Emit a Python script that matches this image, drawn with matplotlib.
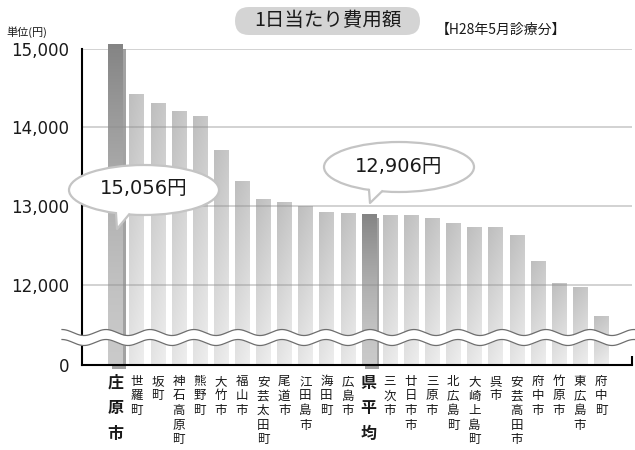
import numpy as np
import matplotlib
matplotlib.use("Agg")
import matplotlib.pyplot as plt
import matplotlib.patheffects as pe
from matplotlib.patches import Ellipse, Polygon, FancyBboxPatch
from matplotlib.ticker import FuncFormatter

plt.rcParams['font.family'] = ['DejaVu Sans', 'Noto Sans CJK JP']

# 1日当たり費用額（H28年5月診療分）
municipalities = ['庄原市', '世羅町', '坂町', '神石高原町', '熊野町', '大竹市', '福山市',
                  '安芸太田町', '尾道市', '江田島市', '海田町', '広島市', '県平均', '三次市',
                  '廿日市市', '三原市', '北広島町', '大崎上島町', '呉市', '安芸高田市',
                  '府中市', '竹原市', '東広島市', '府中町']
costs = [15056, 14425, 14310, 14212, 14148, 13710, 13316, 13088, 13059, 13009, 12932,
         12916, 12906, 12894, 12886, 12848, 12789, 12742, 12733, 12632, 12310, 12030,
         11976, 11611]
highlight = ['庄原市', '県平均']
y_ticks = [0, 12000, 13000, 14000, 15000]

W, H = 635, 450
fig = plt.figure(figsize=(W / 100, H / 100), dpi=100)
AX_L, AX_R, AX_T, AX_B = 81.7, 632.3, 48.5, 364.5
ax = fig.add_axes([AX_L / W, 1 - AX_B / H, (AX_R - AX_L) / W, (AX_B - AX_T) / H])

# 軸の省略（0〜11,000をほぼ潰す）
BREAK = 11000
def fwd(v):
    v = np.asarray(v, float)
    return np.where(v >= BREAK, v, BREAK - (BREAK - v) * 0.0005)

def inv(u):
    u = np.asarray(u, float)
    return np.where(u >= BREAK, u, BREAK - (BREAK - u) / 0.0005)

ax.set_yscale('function', functions=(fwd, inv))
ax.set_xlim(-1.59, 24.48)
ax.set_ylim(0, 15000)

x = np.arange(len(municipalities))
bars = ax.bar(x, costs, width=0.663, color='#d0d0d0', lw=0, zorder=2, clip_on=False)

to_axes = ax.transData + ax.transAxes.inverted()
t = np.linspace(1, 0, 80)[:, None]
xf = np.linspace(0, 1, 16)[None, :]
for b, name in zip(bars, municipalities):
    (x0, y0), (x1, y1) = to_axes.transform([[b.get_x(), 0],
                                            [b.get_x() + b.get_width(), b.get_height()]])
    if name in highlight:
        g = 0.79 - 0.27 * t ** 1.5 + 0.0 * xf
        b.set_path_effects([pe.SimplePatchShadow(offset=(2.5, -3.2), shadow_rgbFace='#a2a2a2',
                                                 alpha=1.0), pe.Normal()])
    else:
        g = 0.915 - 0.15 * t + 0.04 * (xf - 0.5)
    g = np.clip(g, 0, 1)
    rgb = np.dstack([g, g, g])
    im = ax.imshow(rgb, extent=(x0, x1, y0, y1), transform=ax.transAxes, aspect='auto',
                   origin='upper', interpolation='bilinear', zorder=2.1)
    im.set_clip_on(False)

ax.set_xlim(-1.59, 24.48)
ax.set_ylim(0, 15000)

for v in y_ticks[1:]:
    ax.axhline(v, color='#8c8c8c', alpha=0.45, lw=1.2, zorder=2.5)

for s in ['top', 'right']:
    ax.spines[s].set_visible(False)
for s in ['left', 'bottom']:
    ax.spines[s].set_linewidth(1.5)
    ax.spines[s].set_color('black')
    ax.spines[s].set_zorder(3)
ax.plot([1, 1], [0, 9 / 316], transform=ax.transAxes, color='black', lw=1.5,
        clip_on=False, zorder=3, solid_capstyle='butt')

ax.set_xticks([])
ax.set_yticks(y_ticks)
ax.yaxis.set_major_formatter(FuncFormatter(lambda v, p: f"{v:,.0f}"))
ax.tick_params(axis='y', length=0, pad=9, labelsize=12, labelcolor='#1a1a1a')

# 波線（省略記号）
xs_px = np.linspace(62, 640, 600)
xa = (xs_px - AX_L) / (AX_R - AX_L)
yc = 0.0854 + 0.0095 * np.cos(2 * np.pi * (xs_px - 62) / 44)
half = 0.0158
ax.fill_between(xa, yc - half, yc + half, transform=ax.transAxes, color='white', lw=0,
                zorder=4, clip_on=False)
for sgn in (1, -1):
    ax.plot(xa, yc + sgn * half, transform=ax.transAxes, color='#6e6e6e', lw=0.9,
            clip_on=False, zorder=4.1)

# 市町名（縦書き）
for i, name in enumerate(municipalities):
    bold = name in highlight
    pitch = 25.3 if bold else 14.5
    for k, ch in enumerate(name):
        ax.annotate(ch, xy=(i, 0), xycoords=('data', 'axes fraction'),
                    xytext=(0, -(10.5 + k * pitch) * 0.72), textcoords='offset points',
                    ha='center', va='top', fontsize=11.5 if bold else 9,
                    fontweight='bold' if bold else 'normal', family='Noto Sans CJK JP',
                    color='#1a1a1a', annotation_clip=False)

inch = fig.dpi_scale_trans
def ip(px, py):
    return (px / 100, (H - py) / 100)

def balloon(cx, cy, tip, text):
    a, bb = 75, 25
    fig.add_artist(Ellipse(ip(cx, cy), 1.5, 0.5, transform=inch, fc='white', ec='#c4c4c4',
                           lw=1.6, zorder=5))
    lx, rx = tip[0] - 1, tip[0] + 12
    ly = cy + bb * np.sqrt(1 - ((lx - cx) / a) ** 2)
    ry = cy + bb * np.sqrt(1 - ((rx - cx) / a) ** 2)
    fig.add_artist(Polygon([ip(lx, ly - 4), ip(lx, ly), ip(*tip), ip(rx, ry), ip(rx, ry - 4)],
                           closed=True, transform=inch, fc='white', ec='none', zorder=5.2))
    pts = np.array([ip(lx, ly), ip(*tip), ip(rx, ry)])
    fig.add_artist(plt.Line2D(pts[:, 0], pts[:, 1], transform=inch, color='#c4c4c4',
                              lw=1.6, zorder=5.3))
    fig.text(*ip(cx, cy - 1), text, transform=inch, ha='center', va='center', fontsize=14,
             color='#1a1a1a', zorder=6)

i0 = municipalities.index('庄原市')
i1 = municipalities.index('県平均')
balloon(144, 190, (117, 229), f"{costs[i0]:,}円")
balloon(399, 167, (370, 203), f"{costs[i1]:,}円")

# タイトル
fig.add_artist(FancyBboxPatch(ip(235, 35), 1.85, 0.28, boxstyle='round,pad=0,rounding_size=0.14',
                              transform=inch, fc='#d4d4d4', ec='none', zorder=1))
fig.text(*ip(328, 21), '1日当たり費用額', transform=inch, ha='center', va='center',
         fontsize=14, family='Noto Sans CJK JP', color='#1a1a1a', zorder=2)
fig.text(*ip(436, 30), '【H28年5月診療分】', transform=inch, ha='left', va='center',
         fontsize=10, family='Noto Sans CJK JP', color='#1a1a1a')
fig.text(*ip(6, 32), '単位(円)', transform=inch, ha='left', va='center',
         fontsize=8, family='Noto Sans CJK JP', color='#1a1a1a')

fig.savefig('out.png', dpi=100)
